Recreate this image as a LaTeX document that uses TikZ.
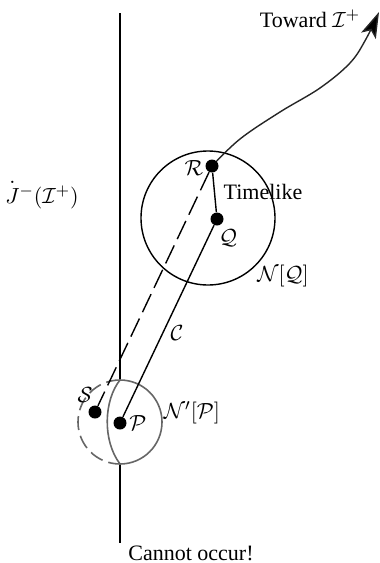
\documentclass[tikz,border=0pt]{standalone}
\usepackage{fontspec}
\setmainfont{Liberation Serif}
\usepackage{amsmath}
\usetikzlibrary{arrows.meta}
\begin{document}
\begin{tikzpicture}[x=0.5pt,y=-0.5pt,
  font=\fontsize{11}{13}\selectfont,
  dot/.style={circle,fill=black,inner sep=0pt,minimum size=6.5pt},
  lbl/.style={inner sep=0pt},
  mainline/.style={line width=0.7pt},
  grayline/.style={line width=0.8pt,draw=black!60},
  dashline/.style={line width=0.7pt,dash pattern=on 10pt off 3.5pt}]
\useasboundingbox (0,0) rectangle (380,563);
% the boundary line
\coordinate (Jtop) at (120,13);
\coordinate (Jbot) at (120,543);
\coordinate (Ctop) at (120,380);
\coordinate (Cbot) at (120,464);
\draw[mainline] (Jtop) -- (Ctop);
\draw[mainline] (Cbot) -- (Jbot);
% small neighbourhood N'[P]
\draw[grayline] (Ctop) arc[start angle=-90,end angle=90,radius=42];
\draw[grayline,dash pattern=on 7pt off 3pt] (Ctop) arc[start angle=-90,end angle=-270,radius=42];
\draw[grayline] (Ctop) .. controls (104,400) and (102,440) .. (Cbot);
% big neighbourhood N[Q]
\node[circle,draw,mainline,minimum size=67pt,inner sep=0pt] (NQ) at (208,218) {};
% curve toward scri+
\coordinate (Rc) at (212,166);
\coordinate (k1) at (240,139);
\coordinate (k2) at (280,112);
\coordinate (k3) at (320,88);
\coordinate (k4) at (350,63);
\coordinate (k5) at (366,39);
\coordinate (tip) at (379,12);
\draw[mainline,draw=black!85,-{Stealth[length=13pt,width=8pt,inset=3pt,fill=black]}]
  plot[smooth,tension=0.6] coordinates {(Rc) (k1) (k2) (k3) (k4) (k5) (tip)};
% points
\node[dot] (R) at (Rc) {};
\node[dot] (Q) at (217,219) {};
\node[dot] (P) at (120,423) {};
\node[dot] (S) at (95,412) {};
% connectors
\draw[mainline] (R) -- (Q);
\draw[mainline] (Q) -- (P);
\draw[dashline] (R) -- (S);
% labels
\node[lbl] (toward) at (310,19) {Toward $\mathcal{I}^+$};
\node[lbl] (jlab) at (42,194) {$\overset{\textstyle .}{J}\vphantom{J}^-(\mathcal{I}^+)$};
\node[lbl] (tl) at (263,192) {Timelike};
\node[lbl] (rlab) at (194,168) {$\mathcal{R}$};
\node[lbl] (qlab) at (228,238) {$\mathcal{Q}$};
\node[lbl] (nq) at (283,276) {$\mathcal{N}[\mathcal{Q}]$};
\node[lbl] (clab) at (177,333) {$\mathcal{C}$};
\node[lbl] (slab) at (85,395) {$\mathcal{S}$};
\node[lbl] (plab) at (138,423) {$\mathcal{P}$};
\node[lbl] (np) at (192,413) {$\mathcal{N}'[\mathcal{P}]$};
\node[lbl] (co) at (191,553) {Cannot occur!};
\end{tikzpicture}
\end{document}
